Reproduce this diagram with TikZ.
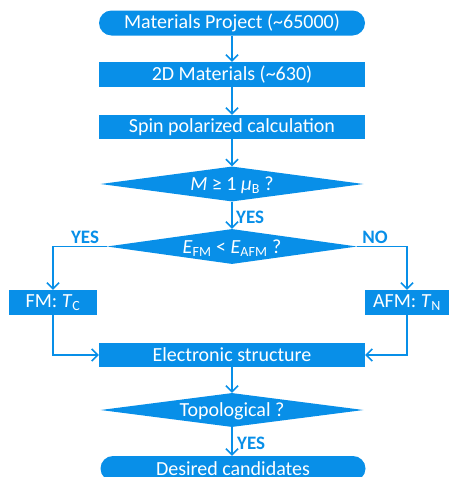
\documentclass[tikz,border=0pt]{standalone}
\usepackage{fontspec}
\setmainfont{Carlito}
\usetikzlibrary{shapes.geometric,arrows.meta}
\definecolor{fcblue}{RGB}{8,143,232}
\begin{document}
\begin{tikzpicture}[x=1pt,y=-1pt,
  font=\fontsize{20}{24}\selectfont,
  box/.style={fill=fcblue,text=white,minimum width=266pt,minimum height=25pt,inner sep=0pt},
  rbox/.style={box,rounded corners=12.5pt},
  dec/.style={diamond,fill=fcblue,text=white,inner sep=0pt,text height=0pt,text depth=0pt,aspect=7.5},
  arr/.style={draw=fcblue,line width=1.6pt,-{Straight Barb[length=6pt,width=12pt,line width=1.6pt]}},
  lab/.style={text=fcblue,font=\fontsize{19}{22}\selectfont\bfseries,inner sep=0pt}]
\useasboundingbox (0,0) rectangle (450,477);
\node[rbox] (mp) at (232,23) {Materials Project (\textasciitilde 65000)};
\node[box] (dm) at (232,74.5) {2D Materials (\textasciitilde 630)};
\node[box,minimum height=24pt] (sp) at (232,127) {Spin polarized calculation};
\node[dec,minimum width=263pt,minimum height=35pt] (d1) at (232,184)
  {\raisebox{-6.5pt}{\textit{M} ≥ 1 \textit{μ}\textsubscript{B} ?}};
\node[dec,minimum width=250pt,minimum height=35pt] (d2) at (232,246.5)
  {\raisebox{-6.5pt}{\textit{E}\textsubscript{FM} < \textit{E}\textsubscript{AFM} ?}};
\node[box,minimum width=88pt] (fm) at (53,302.5) {FM: \textit{T}\textsubscript{C}};
\node[box,minimum width=84pt] (afm) at (407,302.5) {AFM: \textit{T}\textsubscript{N}};
\node[box,minimum height=24pt] (es) at (232,355) {Electronic structure};
\node[dec,minimum width=263pt,minimum height=34pt] (d3) at (232,410)
  {\raisebox{-6.5pt}{Topological ?}};
\node[rbox,minimum width=265pt] (des) at (233,468.5) {Desired candidates};
\draw[arr] (mp.south) -- (dm.north);
\draw[arr] (dm.south) -- (sp.north);
\draw[arr] (sp.south) -- (d1.north);
\draw[arr] (d1.south) -- (d2.north);
\draw[arr] (d2.west) -| (fm.north);
\draw[arr] (d2.east) -| (afm.north);
\draw[arr] (fm.south) |- (es.west);
\draw[arr] (afm.south) |- (es.east);
\draw[arr] (es.south) -- (d3.north);
\draw[arr] (d3.south) -- (d3.south |- des.north);
\node[lab,anchor=west] (y1) at (236,217) {YES};
\node[lab] (y2) at (85,237) {YES};
\node[lab] (n1) at (375,237) {NO};
\node[lab,anchor=west] (y3) at (237,443) {YES};
\end{tikzpicture}
\end{document}
